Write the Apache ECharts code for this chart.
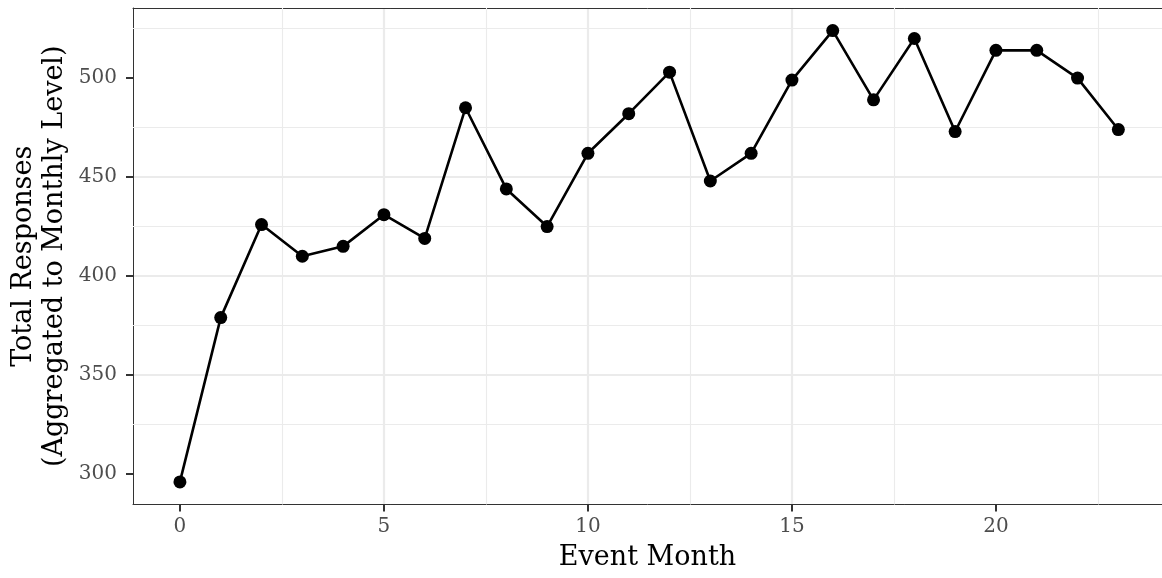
<!DOCTYPE html>
<html>

<head>
    <meta charset="utf-8" />
    <title>Total Responses by Event Month</title>
    <script src="https://cdn.jsdelivr.net/npm/echarts@6.0.0/dist/echarts.min.js"></script>
    <style>
        html, body { margin: 0; padding: 0; background: #fff; }
    </style>
</head>

<body>
    <div id="main" style="width: 1162px;height:578px;"></div>
    <script type="text/javascript">
        // data
        var months = [0, 1, 2, 3, 4, 5, 6, 7, 8, 9, 10, 11, 12, 13, 14, 15, 16, 17, 18, 19, 20, 21, 22, 23];
        var responses = [296, 379, 426, 410, 415, 431, 419, 485, 444, 425, 462, 482, 503, 448, 462, 499, 524, 489, 520, 473, 514, 514, 500, 474];

        var xTicks = [0, 5, 10, 15, 20];
        var yTicks = [300, 350, 400, 450, 500];
        var xMinor = [2.5, 7.5, 12.5, 17.5, 22.5];
        var yMinor = [325, 375, 425, 475, 525];

        var myChart = echarts.init(document.getElementById('main'));

        var font = 'DejaVu Serif';
        var gridGrey = '#ebebeb';
        var frame = '#333333';

        // ggplot style padding; the panel runs off the right edge of the image
        var xMin = -1.15, xMax = 24.07;
        var yMin = 284.6, yMax = 535.4;

        var minorLines = [];
        yMinor.forEach(function (v) { minorLines.push({ yAxis: v }); });
        xMinor.forEach(function (v) { minorLines.push({ xAxis: v }); });

        var option = {
            animation: false,
            grid: {
                left: 133,
                right: 0,
                top: 8,
                bottom: 73.5,
                outerBoundsMode: 'none'
            },
            xAxis: [
                {
                    type: 'value',
                    min: xMin,
                    max: xMax,
                    name: 'Event Month',
                    nameLocation: 'middle',
                    nameGap: 40,
                    nameMoveOverlap: false,
                    nameTextStyle: { fontFamily: font, fontSize: 27, color: '#000' },
                    axisLine: { show: true, onZero: false, lineStyle: { color: frame, width: 1 } },
                    axisTick: { show: true, length: 7, customValues: xTicks, lineStyle: { color: frame, width: 2 } },
                    axisLabel: {
                        customValues: xTicks,
                        margin: 12,
                        fontFamily: font,
                        fontSize: 20,
                        color: '#4d4d4d'
                    },
                    splitLine: { show: true, showMinLine: false, showMaxLine: false, lineStyle: { color: gridGrey, width: 2.2 } }
                },
                {
                    // top edge of the panel
                    type: 'value',
                    position: 'top',
                    min: xMin,
                    max: xMax,
                    axisLine: { show: true, onZero: false, lineStyle: { color: frame, width: 1 } },
                    axisTick: { show: false },
                    axisLabel: { show: false },
                    splitLine: { show: false }
                }
            ],
            yAxis: {
                type: 'value',
                min: yMin,
                max: yMax,
                name: 'Total Responses\n(Aggregated to Monthly Level)',
                nameLocation: 'middle',
                nameRotate: 90,
                nameGap: 63,
                nameMoveOverlap: false,
                nameTextStyle: { fontFamily: font, fontSize: 27, color: '#000', lineHeight: 31 },
                axisLine: { show: true, onZero: false, lineStyle: { color: frame, width: 1 } },
                axisTick: { show: true, length: 7, customValues: yTicks, lineStyle: { color: frame, width: 2 } },
                axisLabel: {
                    customValues: yTicks,
                    margin: 16,
                    fontFamily: font,
                    fontSize: 20,
                    color: '#4d4d4d'
                },
                splitLine: { show: true, showMinLine: false, showMaxLine: false, lineStyle: { color: gridGrey, width: 2.2 } }
            },
            series: [
                {
                    type: 'line',
                    xAxisIndex: 0,
                    data: months.map(function (m, i) { return [m, responses[i]]; }),
                    symbol: 'circle',
                    symbolSize: 13,
                    lineStyle: { color: '#000', width: 2.6 },
                    itemStyle: { color: '#000' },
                    z: 3,
                    markLine: {
                        silent: true,
                        z: 1,
                        symbol: ['none', 'none'],
                        label: { show: false },
                        lineStyle: { color: gridGrey, width: 1.1, type: 'solid' },
                        emphasis: { disabled: true },
                        data: minorLines
                    }
                }
            ]
        };

        myChart.setOption(option);
    </script>
</body>

</html>
